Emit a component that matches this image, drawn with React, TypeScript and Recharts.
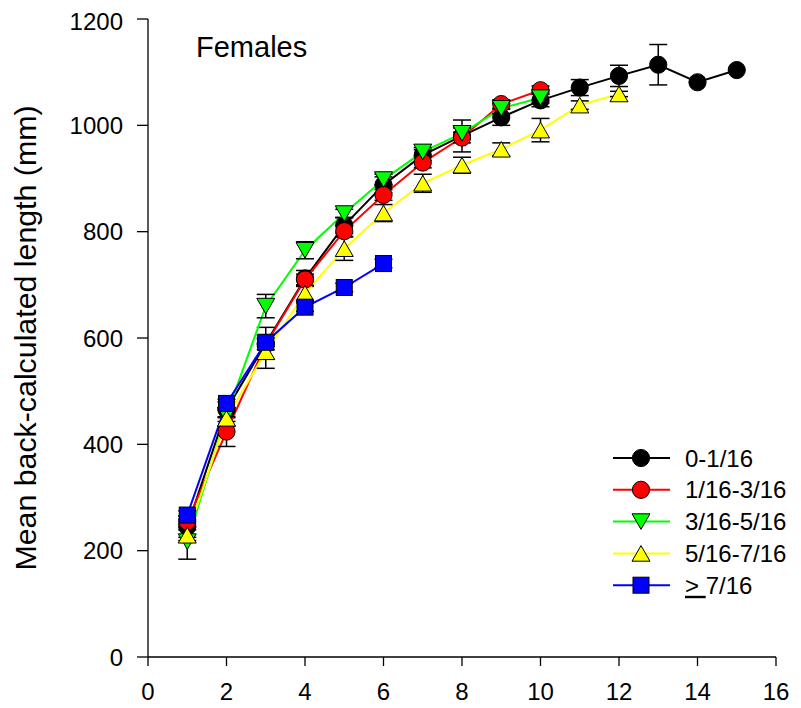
import React from 'react';
import { LineChart, Line, XAxis, YAxis, ErrorBar } from 'recharts';

const ages = [1, 2, 3, 4, 5, 6, 7, 8, 9, 10, 11, 12, 13, 14, 15];

const seriesNames = ['0-1/16', '1/16-3/16', '3/16-5/16', '5/16-7/16', '≥7/16'];

const blackVals = [245, 465, 590, 712, 812, 888, 944, 980, 1015, 1047, 1071, 1093, 1114, 1081, 1104];
const blackErr = [20, 15, 30, 15, 15, 15, 10, 30, 15, 12, 15, 20, 38, 0, 0];

const redVals = [255, 424, 588, 710, 801, 869, 930, 977, 1040, 1066];
const redErr = [10, 28, 10, 10, 10, 10, 10, 10, 8, 8];

const greenVals = [217, 455, 660, 765, 834, 898, 950, 985, 1032, 1052];
const greenErr = [33, 12, 22, 16, 8, 10, 8, 10, 10, 10];

const yellowVals = [229, 449, 574, 684, 768, 835, 891, 925, 955, 991, 1038, 1059];
const yellowErr = [10, 15, 31, 15, 22, 16, 17, 15, 12, 22, 8, 5];

const blueVals = [267, 477, 592, 658, 695, 740];
const blueErr = [8, 8, 8, 8, 8, 8];

const xTicks = [0, 2, 4, 6, 8, 10, 12, 14, 16];
const yTicks = [0, 200, 400, 600, 800, 1000, 1200];

const FONT = '"Liberation Sans", Arial, Helvetica, sans-serif';

type Shape = 'circle' | 'down' | 'up' | 'square';

const build = (vals: number[], errs: number[]) =>
  vals.map((v, i) => ({ x: ages[i], y: v, err: errs[i] }));

const series = [
  { name: seriesNames[0], color: '#000000', fill: '#000000', shape: 'circle' as Shape, data: build(blackVals, blackErr) },
  { name: seriesNames[1], color: '#ff0000', fill: '#ff0000', shape: 'circle' as Shape, data: build(redVals, redErr) },
  { name: seriesNames[2], color: '#00ff00', fill: '#00ff00', shape: 'down' as Shape, data: build(greenVals, greenErr) },
  { name: seriesNames[3], color: '#ffff00', fill: '#ffff00', shape: 'up' as Shape, data: build(yellowVals, yellowErr) },
  { name: seriesNames[4], color: '#0000ff', fill: '#0000ff', shape: 'square' as Shape, data: build(blueVals, blueErr) },
];

const Marker = ({ cx, cy, shape, fill }: { cx: number; cy: number; shape: Shape; fill: string }) => {
  const s = 9;
  const h = 7.8;
  if (shape === 'circle') {
    return <circle cx={cx} cy={cy} r={8.6} fill={fill} stroke="#000" strokeWidth={1} />;
  }
  if (shape === 'square') {
    return <rect x={cx - 8} y={cy - 8} width={16} height={16} fill={fill} stroke="#000" strokeWidth={1} />;
  }
  if (shape === 'up') {
    return (
      <polygon
        points={`${cx},${cy - h} ${cx + s},${cy + h} ${cx - s},${cy + h}`}
        fill={fill}
        stroke="#000"
        strokeWidth={1}
      />
    );
  }
  return (
    <polygon
      points={`${cx - s},${cy - h} ${cx + s},${cy - h} ${cx},${cy + h}`}
      fill={fill}
      stroke="#000"
      strokeWidth={1}
    />
  );
};

const makeDot = (shape: Shape, fill: string) => (props: any) => {
  const { cx, cy, index } = props;
  if (cx == null || cy == null) return <g key={`e-${index}`} />;
  return (
    <g key={`d-${index}`}>
      <Marker cx={cx} cy={cy} shape={shape} fill={fill} />
    </g>
  );
};

const YLabel = (props: any) => {
  const vb = props.viewBox || { x: 0, y: 11, width: 140, height: 638 };
  const x = vb.x + 27.5;
  const y = vb.y + vb.height / 2;
  return (
    <text
      x={x}
      y={y}
      transform={`rotate(-90 ${x} ${y})`}
      textAnchor="middle"
      fontSize={30}
      fontFamily={FONT}
      fill="#000"
      textLength={465}
      lengthAdjust="spacingAndGlyphs"
    >
      Mean back-calculated length (mm)
    </text>
  );
};

const LegendBox = () => {
  const rowH = 31.8;
  return (
    <svg
      width={190}
      height={170}
      style={{ position: 'absolute', left: 605, top: 434, overflow: 'visible', pointerEvents: 'none' }}
    >
      {series.map((s, i) => {
        const y = 16 + i * rowH;
        return (
          <g key={s.name}>
            <line x1={0} y1={y} x2={57} y2={y} stroke={s.color} strokeWidth={2} />
            <Marker cx={28} cy={y} shape={s.shape} fill={s.fill} />
            <text x={72} y={y + 8.6} fontSize={24} fontFamily={FONT} fill="#000">
              {i === 4 ? (
                <>
                  <tspan textDecoration="underline">&gt; </tspan>
                  <tspan>7/16</tspan>
                </>
              ) : (
                s.name
              )}
            </text>
          </g>
        );
      })}
    </svg>
  );
};

export default function App() {
  return (
    <div style={{ position: 'relative', width: 793, height: 700, fontFamily: FONT }}>
      <LineChart
        width={793}
        height={700}
        margin={{ top: 11, right: 25, bottom: 0, left: 0 }}
      >
        <XAxis
          type="number"
          dataKey="x"
          domain={[0, 16]}
          ticks={xTicks}
          allowDuplicatedCategory={false}
          height={51}
          axisLine={{ stroke: '#000', strokeWidth: 1.3 }}
          tickLine={{ stroke: '#000', strokeWidth: 1.3 }}
          tickSize={9}
          tickMargin={17}
          tick={{ fill: '#000', fontSize: 24, fontFamily: FONT }}
        />
        <YAxis
          type="number"
          domain={[0, 1200]}
          ticks={yTicks}
          width={140}
          axisLine={{ stroke: '#000', strokeWidth: 1.3 }}
          tickLine={{ stroke: '#000', strokeWidth: 1.3 }}
          tickSize={11}
          tickMargin={14}
          tick={{ fill: '#000', fontSize: 24, fontFamily: FONT }}
          label={<YLabel />}
        />
        {series.flatMap((s, i) => [
          <Line
            key={`line-${i}`}
            data={s.data}
            dataKey="y"
            name={s.name}
            stroke={s.color}
            strokeWidth={2}
            dot={makeDot(s.shape, s.fill)}
            activeDot={false}
            isAnimationActive={false}
            legendType="none"
          />,
          <Line
            key={`err-${i}`}
            data={s.data}
            dataKey="y"
            name={`${s.name} err`}
            stroke="none"
            dot={false}
            activeDot={false}
            isAnimationActive={false}
            legendType="none"
          >
            <ErrorBar dataKey="err" direction="y" width={9} stroke="#000" strokeWidth={1.5} />
          </Line>,
        ])}
      </LineChart>
      <LegendBox />
      <svg
        width={793}
        height={700}
        style={{ position: 'absolute', left: 0, top: 0, pointerEvents: 'none' }}
      >
        <text x={188} y={49.3} fontSize={29} fontFamily={FONT} fill="#000">
          Females
        </text>
      </svg>
    </div>
  );
}
